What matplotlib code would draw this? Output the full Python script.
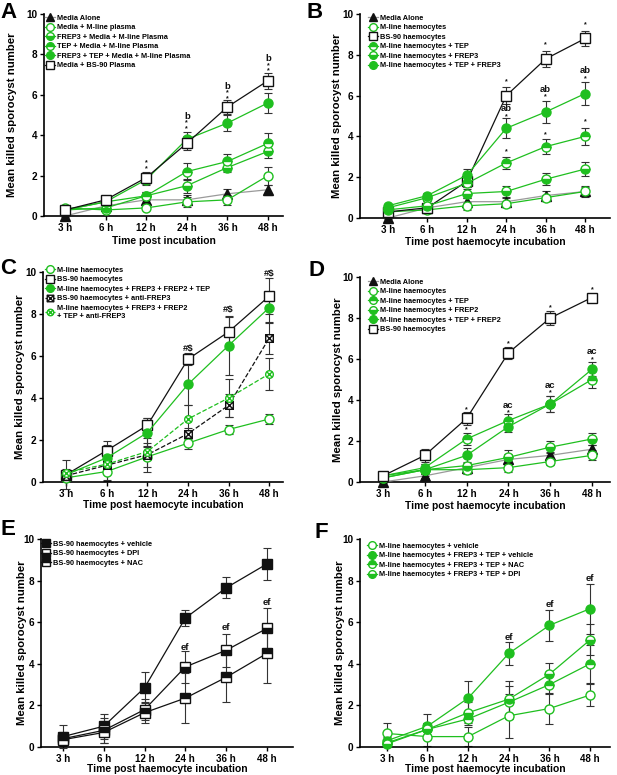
import matplotlib
matplotlib.use("Agg")
import matplotlib.pyplot as plt
from matplotlib.path import Path
import numpy as np

plt.rcParams['font.family'] = ['Liberation Sans', 'DejaVu Sans']
plt.rcParams['font.weight'] = 'bold'

# ---------------- data ----------------
times = ["3 h", "6 h", "12 h", "24 h", "36 h", "48 h"]

# Panel A
A_labels = ["Media Alone", "Media + M-line plasma", "FREP3 + Media + M-line Plasma",
            "TEP + Media + M-line Plasma", "FREP3 + TEP + Media + M-line Plasma",
            "Media + BS-90 Plasma"]
A_media = [0.0, 0.5, 0.8, 0.8, 1.1, 1.3]
A_media_err = [0.05, 0.1, 0.25, 0.25, 0.25, 0.25]
A_mline = [0.4, 0.3, 0.4, 0.7, 0.8, 2.0]
A_mline_err = [0.1, 0.1, 0.1, 0.25, 0.25, 0.45]
A_frep3 = [0.3, 0.4, 1.0, 1.5, 2.4, 3.2]
A_frep3_err = [0.1, 0.1, 0.2, 0.35, 0.2, 0.35]
A_tep = [0.3, 0.7, 1.0, 2.2, 2.7, 3.6]
A_tep_err = [0.1, 0.1, 0.2, 0.4, 0.35, 0.5]
A_both = [0.3, 0.7, 1.8, 3.8, 4.6, 5.6]
A_both_err = [0.1, 0.1, 0.25, 0.35, 0.4, 0.5]
A_bs90 = [0.3, 0.8, 1.9, 3.6, 5.4, 6.7]
A_bs90_err = [0.1, 0.1, 0.3, 0.35, 0.35, 0.4]
A_ann = [(2, 2.47, "*\n*"),
         (3, 4.47, "*\n*"), (3, 4.95, "b"),
         (4, 5.95, "*\n*"), (4, 6.43, "b"),
         (5, 7.32, "*\n*"), (5, 7.8, "b")]

# Panel B
B_labels = ["Media Alone", "M-line haemocytes", "BS-90 haemocytes", "M-line haemocytes + TEP",
            "M-line haemocytes + FREP3", "M-line haemocytes + TEP + FREP3"]
B_media = [0.0, 0.5, 0.8, 0.8, 1.1, 1.3]
B_media_err = [0.05, 0.1, 0.2, 0.2, 0.2, 0.25]
B_mline = [0.3, 0.4, 0.6, 0.7, 1.0, 1.3]
B_mline_err = [0.1, 0.1, 0.2, 0.15, 0.15, 0.2]
B_bs90 = [0.3, 0.5, 1.8, 6.0, 7.8, 8.8]
B_bs90_err = [0.1, 0.1, 0.3, 0.4, 0.4, 0.35]
B_tep = [0.5, 1.0, 1.7, 2.7, 3.5, 4.0]
B_tep_err = [0.1, 0.15, 0.2, 0.3, 0.35, 0.4]
B_frep3 = [0.4, 0.6, 1.2, 1.3, 1.9, 2.4]
B_frep3_err = [0.1, 0.1, 0.2, 0.25, 0.3, 0.35]
B_both = [0.6, 1.1, 2.1, 4.4, 5.2, 6.1]
B_both_err = [0.1, 0.15, 0.3, 0.5, 0.55, 0.55]
B_ann = [(3, 6.68, "*"), (3, 4.97, "*"), (3, 5.35, "ab"), (3, 3.24, "*"),
         (4, 8.51, "*"), (4, 5.92, "*"), (4, 6.3, "ab"), (4, 4.09, "*"),
         (5, 9.46, "*"), (5, 6.85, "*"), (5, 7.23, "ab"), (5, 4.71, "*")]

# Panel C
C_labels = ["M-line haemocytes", "BS-90 haemocytes", "M-line haemocytes + FREP3 + FREP2 + TEP",
            "BS-90 haemocytes + anti-FREP3",
            "M-line haemocytes + FREP3 + FREP2\n+ TEP + anti-FREP3"]
C_mline = [0.2, 0.5, 1.2, 1.85, 2.5, 3.0]
C_mline_err = [0.1, 0.45, 0.5, 0.3, 0.2, 0.25]
C_bs90 = [0.35, 1.5, 2.7, 5.85, 7.15, 8.85]
C_bs90_err = [0.1, 0.45, 0.35, 0.3, 0.7, 0.85]
C_full = [0.35, 1.15, 2.35, 4.65, 6.5, 8.3]
C_full_err = [0.7, 0.6, 0.7, 1.0, 1.4, 0.75]
C_bsanti = [0.3, 0.8, 1.3, 2.3, 3.65, 6.85]
C_bsanti_err = [0.2, 0.7, 0.8, 0.25, 0.55, 0.75]
C_mlanti = [0.45, 0.85, 1.45, 3.0, 4.0, 5.15]
C_mlanti_err = [0.15, 0.4, 0.4, 0.65, 0.9, 0.75]
C_ann = [(3, 6.37, "#$"), (4, 8.2, "#$"), (5, 9.92, "#$")]

# Panel D
D_labels = ["Media Alone", "M-line haemocytes", "M-line haemocytes + TEP",
            "M-line haemocytes + FREP2", "M-line haemocytes + TEP + FREP2", "BS-90 haemocytes"]
D_media = [0.0, 0.3, 0.7, 1.1, 1.3, 1.6]
D_media_err = [0.05, 0.1, 0.2, 0.25, 0.15, 0.2]
D_mline = [0.3, 0.6, 0.6, 0.7, 1.0, 1.3]
D_mline_err = [0.1, 0.2, 0.2, 0.2, 0.15, 0.25]
D_tep = [0.3, 0.7, 2.1, 3.0, 3.8, 5.0]
D_tep_err = [0.2, 0.2, 0.3, 0.3, 0.4, 0.4]
D_frep2 = [0.2, 0.6, 0.8, 1.2, 1.7, 2.1]
D_frep2_err = [0.1, 0.2, 0.2, 0.35, 0.3, 0.3]
D_both = [0.2, 0.6, 1.3, 2.7, 3.8, 5.5]
D_both_err = [0.2, 0.3, 0.35, 0.25, 0.4, 0.35]
D_bs90 = [0.3, 1.3, 3.1, 6.3, 8.0, 9.0]
D_bs90_err = [0.1, 0.3, 0.3, 0.3, 0.35, 0.1]
D_ann = [(2, 3.54, "*"), (2, 2.57, "*"), (3, 6.75, "*"), (3, 3.36, "*"), (3, 3.74, "ac"),
         (4, 8.5, "*"), (4, 4.34, "*"), (4, 4.72, "ac"), (5, 9.38, "*"), (5, 5.97, "*"),
         (5, 6.35, "ac")]

# Panel E
E_labels = ["BS-90 haemocytes + vehicle", "BS-90 haemocytes + DPI", "BS-90 haemocytes + NAC"]
E_veh = [0.5, 1.0, 2.85, 6.2, 7.65, 8.8]
E_veh_err = [0.55, 0.6, 0.75, 0.4, 0.5, 0.75]
E_dpi = [0.4, 0.8, 1.8, 3.85, 4.65, 5.7]
E_dpi_err = [0.3, 0.6, 0.5, 0.75, 0.8, 1.0]
E_nac = [0.35, 0.7, 1.65, 2.35, 3.35, 4.5]
E_nac_err = [0.3, 0.5, 0.5, 1.2, 1.2, 1.4]
E_ann = [(3, 4.78, "ef"), (4, 5.74, "ef"), (5, 6.96, "ef")]

# Panel F
F_labels = ["M-line haemocytes + vehicle", "M-line haemocytes + FREP3 + TEP + vehicle",
            "M-line haemocytes + FREP3 + TEP + NAC", "M-line haemocytes + FREP3 + TEP + DPI"]
F_veh = [0.65, 0.5, 0.5, 1.5, 1.85, 2.5]
F_veh_err = [0.5, 0.45, 0.45, 1.05, 0.75, 0.55]
F_full = [0.3, 1.0, 2.35, 4.5, 5.85, 6.65]
F_full_err = [0.2, 0.6, 0.8, 0.55, 0.75, 1.2]
F_nac = [0.2, 0.85, 1.35, 2.15, 3.0, 4.0]
F_nac_err = [0.2, 0.3, 0.3, 0.8, 0.45, 0.9]
F_dpi = [0.15, 0.85, 1.65, 2.3, 3.5, 5.15]
F_dpi_err = [0.15, 0.3, 0.5, 0.85, 0.55, 0.75]
F_ann = [(3, 5.26, "ef"), (4, 6.86, "ef"), (5, 8.11, "ef")]

# ---------------- style ----------------
GREEN = "#1fbf1f"
BLACK = "#111111"
GRAY = "#9a9a9a"
ERRC = "#333333"
W, H = 617, 775

# custom markers: square with X, circle with X
_sq = [(-1, -1), (1, -1), (1, 1), (-1, 1), (-1, -1)]
SQX = Path(_sq + [(-1, -1), (1, 1), (-1, 1), (1, -1)],
           [Path.MOVETO] + [Path.LINETO] * 3 + [Path.CLOSEPOLY] +
           [Path.MOVETO, Path.LINETO, Path.MOVETO, Path.LINETO])
_th = np.linspace(0, 2 * np.pi, 41)
_circ = list(zip(np.cos(_th), np.sin(_th)))
_d = 0.7071
CIRX = Path(_circ + [(-_d, -_d), (_d, _d), (-_d, _d), (_d, -_d)],
            [Path.MOVETO] + [Path.LINETO] * 39 + [Path.CLOSEPOLY] +
            [Path.MOVETO, Path.LINETO, Path.MOVETO, Path.LINETO])

fig = plt.figure(figsize=(W / 100, H / 100), dpi=100)


def make_ax(box, xlo, xhi, ylab_x):
    l, r, t, b = box
    ax = fig.add_axes([l / W, 1 - b / H, (r - l) / W, (b - t) / H])
    ax.set_xlim(xlo, xhi)
    ax.set_ylim(0, 10)
    for s in ["top", "right"]:
        ax.spines[s].set_visible(False)
    for s in ["left", "bottom"]:
        ax.spines[s].set_linewidth(1.2)
    ax.set_xticks(range(len(times)))
    ax.set_xticklabels(times, fontsize=7, fontweight="bold")
    ax.set_yticks([0, 2, 4, 6, 8, 10])
    ax.set_yticklabels(["0", "2", "4", "6", "8", "10"], fontsize=7.2, fontweight="bold")
    ax.tick_params(direction="out", length=3.2, width=1.0, pad=1.5)
    ax.set_ylabel("Mean killed sporocyst number", fontsize=8.2, fontweight="bold")
    ax.yaxis.set_label_coords((ylab_x - l) / (r - l), 0.5)
    ax.yaxis.label.set_va("center")
    return ax


def set_xlabel(ax, box, text, ypx):
    l, r, t, b = box
    ax.set_xlabel(text, fontsize=7.4, fontweight="bold")
    ax.xaxis.set_label_coords(0.5, (b - ypx) / (b - t))
    ax.xaxis.label.set_va("center")


def series(ax, y, err, label, marker, mfc, mec, lc, fill="full", ls="-", alt=None, z=3, ms=6.5):
    x = np.arange(len(y))
    ax.errorbar(x, y, yerr=err, fmt="none", ecolor=ERRC, elinewidth=0.8, capsize=3,
                capthick=0.8, zorder=z - 1, clip_on=False)
    kw = dict(marker=marker, ms=ms, mfc=mfc, mec=mec, mew=1.0, fillstyle=fill,
              color=lc, lw=0.9, ls=ls, label=label, zorder=z, clip_on=False)
    if alt is not None:
        kw["markerfacecoloralt"] = alt
    ax.plot(x, y, **kw)


def annotate(ax, anns):
    for xi, yi, s in anns:
        star = s.startswith("*")
        fs = 5 if star else 6.8
        ax.text(xi, yi, s, ha="center", va="center", fontsize=fs, fontweight="bold",
                color=BLACK, zorder=6, clip_on=False, linespacing=0.75)


FS_LEG = 5.3
HL = 1.3


def legend(ax, mx, my):
    # mx, my: pixel centre of first legend marker
    hl_px = HL * FS_LEG * 100 / 72
    left = mx - hl_px / 2
    top = my - 4.2
    ax.legend(loc="upper left", bbox_to_anchor=(left / W, 1 - top / H),
              bbox_transform=fig.transFigure, frameon=False,
              prop={"size": FS_LEG, "weight": "bold"}, handlelength=HL, handletextpad=0.35,
              labelspacing=0.32, borderaxespad=0, borderpad=0, markerscale=0.85)


# ---- A ----
bA = (44, 283, 14, 216)
ax = make_ax(bA, -0.52, 5.37, 12)
series(ax, A_media, A_media_err, A_labels[0], "^", BLACK, BLACK, GRAY)
series(ax, A_mline, A_mline_err, A_labels[1], "o", "white", GREEN, GREEN)
series(ax, A_frep3, A_frep3_err, A_labels[2], "o", GREEN, GREEN, GREEN, fill="bottom", alt="white")
series(ax, A_tep, A_tep_err, A_labels[3], "o", GREEN, GREEN, GREEN, fill="top", alt="white")
series(ax, A_both, A_both_err, A_labels[4], "o", GREEN, GREEN, GREEN)
series(ax, A_bs90, A_bs90_err, A_labels[5], "s", "white", BLACK, BLACK)
annotate(ax, A_ann)
legend(ax, 50, 19)
set_xlabel(ax, bA, "Time post incubation", 241)

# ---- B ----
bB = (360, 610, 14, 218)
ax = make_ax(bB, -0.71, 5.63, 337)
series(ax, B_media, B_media_err, B_labels[0], "^", BLACK, BLACK, GRAY)
series(ax, B_mline, B_mline_err, B_labels[1], "o", "white", GREEN, GREEN)
series(ax, B_bs90, B_bs90_err, B_labels[2], "s", "white", BLACK, BLACK)
series(ax, B_tep, B_tep_err, B_labels[3], "o", GREEN, GREEN, GREEN, fill="top", alt="white")
series(ax, B_frep3, B_frep3_err, B_labels[4], "o", GREEN, GREEN, GREEN, fill="bottom", alt="white")
series(ax, B_both, B_both_err, B_labels[5], "o", GREEN, GREEN, GREEN)
annotate(ax, B_ann)
legend(ax, 373, 19)
set_xlabel(ax, bB, "Time post haemocyte incubation", 242)

# ---- C ----
bC = (43, 283, 272, 482)
ax = make_ax(bC, -0.57, 5.34, 20)
series(ax, C_mline, C_mline_err, C_labels[0], "o", "white", GREEN, GREEN)
series(ax, C_bs90, C_bs90_err, C_labels[1], "s", "white", BLACK, BLACK)
series(ax, C_full, C_full_err, C_labels[2], "o", GREEN, GREEN, GREEN)
series(ax, C_bsanti, C_bsanti_err, C_labels[3], SQX, "white", BLACK, BLACK, ls="--", ms=5.5)
series(ax, C_mlanti, C_mlanti_err, C_labels[4], CIRX, "white", GREEN, GREEN, ls="--", ms=5.5)
annotate(ax, C_ann)
legend(ax, 50, 271)
set_xlabel(ax, bC, "Time post haemocyte incubation", 505)

# ---- D ----
bD = (360, 610, 277, 482)
ax = make_ax(bD, -0.55, 5.43, 338)
series(ax, D_media, D_media_err, D_labels[0], "^", BLACK, BLACK, GRAY)
series(ax, D_mline, D_mline_err, D_labels[1], "o", "white", GREEN, GREEN)
series(ax, D_tep, D_tep_err, D_labels[2], "o", GREEN, GREEN, GREEN, fill="top", alt="white")
series(ax, D_frep2, D_frep2_err, D_labels[3], "o", GREEN, GREEN, GREEN, fill="bottom", alt="white")
series(ax, D_both, D_both_err, D_labels[4], "o", GREEN, GREEN, GREEN)
series(ax, D_bs90, D_bs90_err, D_labels[5], "s", "white", BLACK, BLACK)
annotate(ax, D_ann)
legend(ax, 373, 283)
set_xlabel(ax, bD, "Time post haemocyte incubation", 506)

# ---- E ----
bE = (41, 293, 539, 747)
ax = make_ax(bE, -0.54, 5.64, 22)
series(ax, E_veh, E_veh_err, E_labels[0], "s", BLACK, BLACK, BLACK)
series(ax, E_dpi, E_dpi_err, E_labels[1], "s", BLACK, BLACK, BLACK, fill="bottom", alt="white")
series(ax, E_nac, E_nac_err, E_labels[2], "s", BLACK, BLACK, BLACK, fill="top", alt="white")
annotate(ax, E_ann)
legend(ax, 46, 545)
set_xlabel(ax, bE, "Time post haemocyte incubation", 769)

# ---- F ----
bF = (360, 610, 539, 747)
ax = make_ax(bF, -0.66, 5.49, 340)
series(ax, F_veh, F_veh_err, F_labels[0], "o", "white", GREEN, GREEN)
series(ax, F_full, F_full_err, F_labels[1], "o", GREEN, GREEN, GREEN)
series(ax, F_nac, F_nac_err, F_labels[2], "o", GREEN, GREEN, GREEN, fill="top", alt="white")
series(ax, F_dpi, F_dpi_err, F_labels[3], "o", GREEN, GREEN, GREEN, fill="bottom", alt="white")
annotate(ax, F_ann)
legend(ax, 372, 547)
set_xlabel(ax, bF, "Time post haemocyte incubation", 769)

# panel letters
for lx, ly, s in [(0, 2, "A"), (306, 2, "B"), (0, 258, "C"), (309, 260, "D"),
                  (0, 519, "E"), (315, 522, "F")]:
    fig.text(lx / W, 1 - ly / H, s, fontsize=16, fontweight="bold", va="top", ha="left")

fig.savefig("out.png", dpi=100)
